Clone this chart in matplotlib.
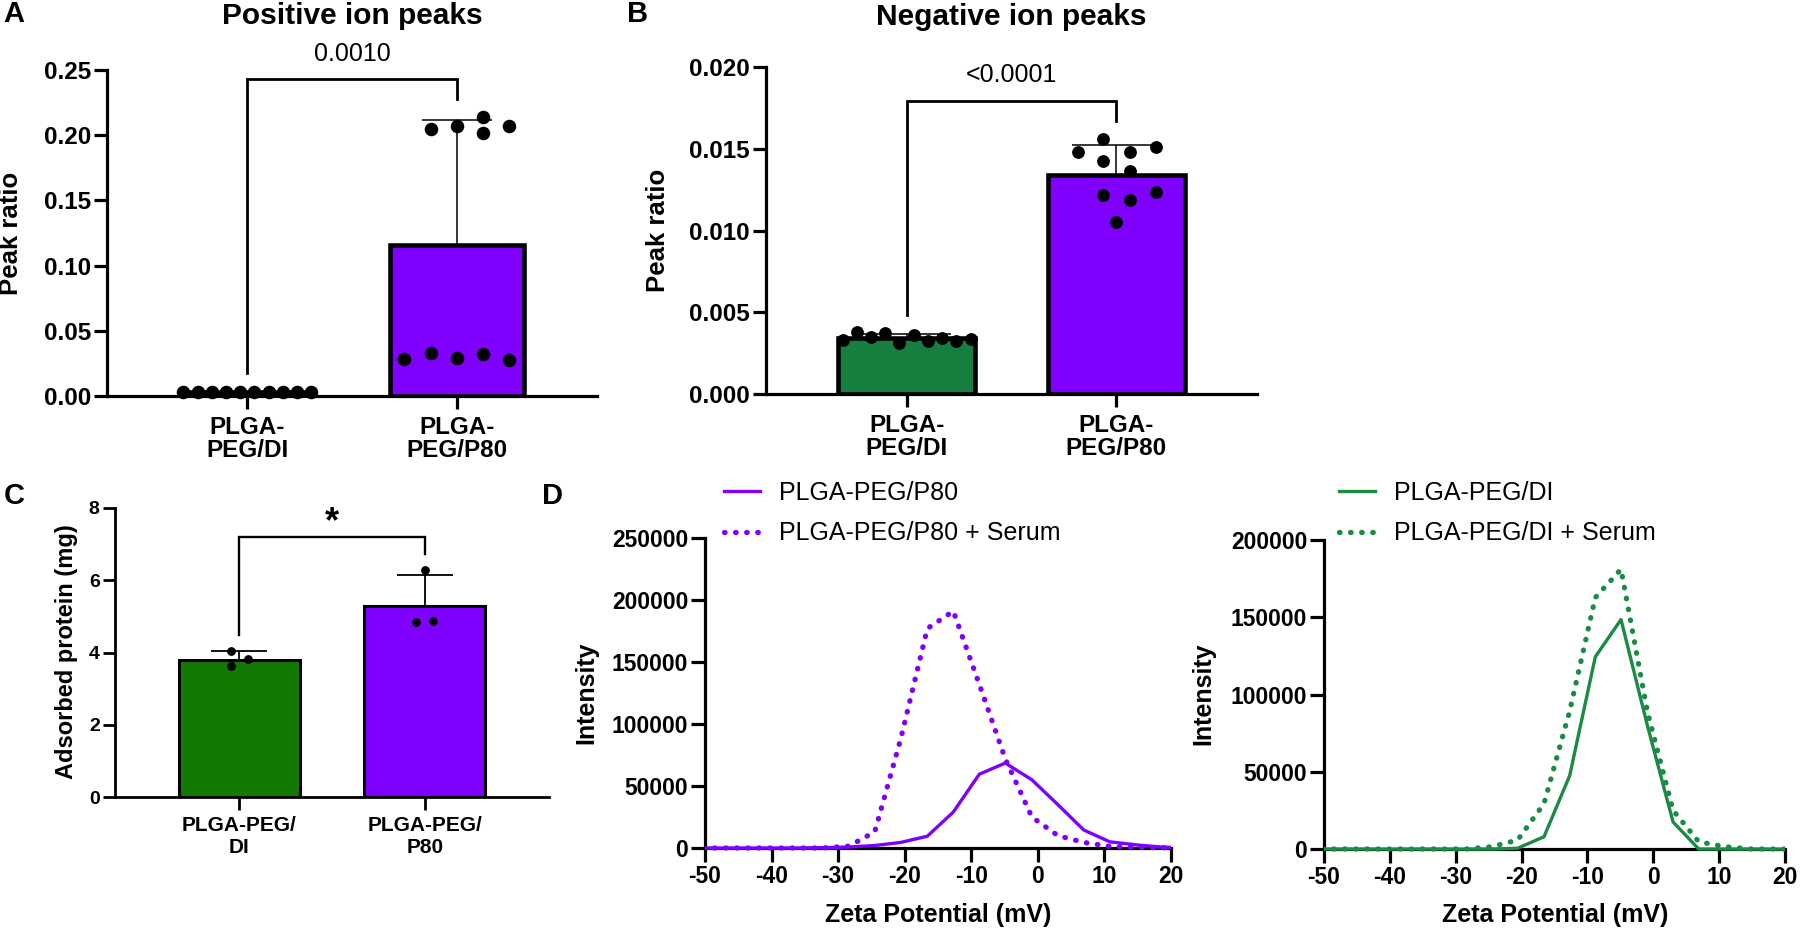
import numpy as np
import matplotlib.pyplot as plt
from matplotlib.ticker import FormatStrFormatter
from matplotlib.transforms import Bbox, TransformedBbox

plt.rcParams['font.family'] = ['Liberation Sans', 'DejaVu Sans']
plt.rcParams['font.weight'] = 'bold'
plt.rcParams['axes.unicode_minus'] = False

# ---------------- data ----------------
groups_ab = ['PLGA-\nPEG/DI', 'PLGA-\nPEG/P80']
groups_c = ['PLGA-PEG/\nDI', 'PLGA-PEG/\nP80']

# A: positive ion peak ratio
pos_mean = [0.003, 0.1158]
pos_sd = [0.0002, 0.0959]
pos_di = [0.0030, 0.0032, 0.0031, 0.0030, 0.0029, 0.0031, 0.0030, 0.0032, 0.0030, 0.0029]
pos_p80 = [0.2045, 0.2071, 0.2137, 0.2019, 0.2071, 0.0281, 0.0327, 0.0294, 0.0319, 0.0273]

# B: negative ion peak ratio
neg_mean = [0.0034, 0.0134]
neg_sd = [0.0003, 0.0018]
neg_di = [0.00330, 0.00381, 0.00351, 0.00371, 0.00310, 0.00361, 0.00326, 0.00340, 0.00324, 0.00334]
neg_p80 = [0.01478, 0.01558, 0.01427, 0.01478, 0.01366, 0.01513, 0.01217, 0.01187, 0.01238, 0.01054]

# C: adsorbed protein (mg)
prot_mean = [3.80, 5.30]
prot_sd = [0.25, 0.85]
prot_di = [4.03, 3.64, 3.82]
prot_p80 = [6.29, 4.84, 4.86]

# D: zeta potential distributions
zeta = [-51.9, -48.0, -44.1, -40.1, -36.2, -32.3, -28.4, -24.5, -20.6, -16.6,
        -12.7, -8.8, -4.9, -0.9, 3.0, 6.9, 10.8, 14.8, 18.7, 22.6]
p80 = [0, 0, 0, 0, 0, 300, 800, 2000, 4500, 9500,
       29000, 59500, 68500, 55000, 35000, 14500, 5000, 2500, 700, 200]
p80_serum = [0, 0, 0, 0, 0, 0, 1500, 13000, 88000, 177000,
             191000, 132000, 72000, 25000, 10000, 4500, 1300, 500, 200, 0]
di = [0, 0, 0, 0, 0, 0, 0, 0, 500, 7900,
      47400, 124400, 148500, 80000, 17500, 0, 0, 0, 0, 0]
di_serum = [0, 0, 0, 0, 0, 0, 0, 1500, 5800, 29300,
            89100, 162800, 181000, 89000, 25000, 4700, 1500, 0, 0, 0]

# horizontal spread of the scatter dots (fraction of category spacing)
spread10 = [-0.305, -0.237, -0.169, -0.102, -0.034, 0.034, 0.102, 0.169, 0.237, 0.305]
spread_pos_p80 = [-0.125, 0, 0.125, 0.125, 0.25, -0.25, -0.125, 0, 0.125, 0.25]
spread_neg_p80 = [-0.185, -0.064, -0.064, 0.066, 0.066, 0.189, -0.064, 0.066, 0.189, 0]
spread_c_di = [-0.045, -0.045, 0.048]
spread_c_p80 = [0, -0.048, 0.047]

purple = '#7F00FF'
green_b = '#167F40'
green_c = '#127A02'
green_d = '#1A8A44'

W, H = 1800, 932
fig = plt.figure(figsize=(18, 9.32), dpi=100)


def rect(x0, x1, y0, y1):
    return [x0 / W, 1 - y1 / H, (x1 - x0) / W, (y1 - y0) / H]


def fx(x):
    return x / W


def fy(y):
    return 1 - y / H


def bar_panel(ax, means, sds, dots, spreads, colors, width, bar_lw, axis_lw,
              dot_s, capsize, err_lw):
    x = np.arange(len(means))
    ax.bar(x, means, width=width, color=colors, edgecolor='black',
           linewidth=bar_lw, zorder=2)
    for i in x:
        ax.errorbar(i, means[i], yerr=[[0], [sds[i]]], fmt='none', ecolor='black',
                    elinewidth=err_lw, capsize=capsize, capthick=err_lw, zorder=3)
        ax.scatter(i + np.array(spreads[i]), dots[i], s=dot_s, color='black',
                   linewidths=0, zorder=4, clip_on=False)
    ax.set_xlim(-0.67, 1.67)
    for side in ['top', 'right']:
        ax.spines[side].set_visible(False)
    for side in ['left', 'bottom']:
        ax.spines[side].set_linewidth(axis_lw)


def bracket(ax, y_left, y_top, y_right, text, text_y, lw, size, weight):
    ax.plot([0, 0, 1, 1], [y_left, y_top, y_top, y_right], color='black', lw=lw,
            clip_on=False, solid_joinstyle='miter')
    ax.text(0.5, text_y, text, ha='center', va='center', fontsize=size,
            fontweight=weight)


# ---------------- A ----------------
axA = fig.add_axes(rect(107, 597, 70, 396))
bar_panel(axA, pos_mean, pos_sd, [pos_di, pos_p80], [spread10, spread_pos_p80],
          [green_b, purple], 0.64, 3.3, 2.3, 95, 25, 1.1)
axA.set_ylim(0, 0.25)
axA.set_yticks(np.arange(0, 0.26, 0.05))
axA.yaxis.set_major_formatter(FormatStrFormatter('%.2f'))
axA.set_xticks([0, 1], groups_ab, linespacing=1.0)
axA.tick_params(axis='both', width=2.3, length=9.5, labelsize=17.5)
axA.tick_params(axis='y', pad=2)
axA.tick_params(axis='x', pad=5)
bracket(axA, 0.0176, 0.2431, 0.2278, '0.0010', 0.2623, 2, 18, 'normal')
axA.text(0.5, 1.166, 'Positive ion peaks', transform=axA.transAxes, ha='center',
         va='center', fontsize=21.5, fontweight='bold')

# ---------------- B ----------------
axB = fig.add_axes(rect(766, 1257, 67, 394))
bar_panel(axB, neg_mean, neg_sd, [neg_di, neg_p80], [spread10, spread_neg_p80],
          [green_b, purple], 0.65, 3.3, 2.3, 85, 32, 1.1)
axB.set_ylim(0, 0.02)
axB.set_yticks(np.arange(0, 0.0201, 0.005))
axB.yaxis.set_major_formatter(FormatStrFormatter('%.3f'))
axB.set_xticks([0, 1], groups_ab, linespacing=1.0)
axB.tick_params(axis='both', width=2.3, length=9.5, labelsize=17.5)
axB.tick_params(axis='y', pad=2)
axB.tick_params(axis='x', pad=5)
bracket(axB, 0.00483, 0.01792, 0.0167, '<0.0001', 0.01951, 2, 18, 'normal')
axB.text(0.5, 1.153, 'Negative ion peaks', transform=axB.transAxes, ha='center',
         va='center', fontsize=21.5, fontweight='bold')

# ---------------- C ----------------
axC = fig.add_axes(rect(115, 549, 508, 797))
bar_panel(axC, prot_mean, prot_sd, [prot_di, prot_p80], [spread_c_di, spread_c_p80],
          [green_c, purple], 0.65, 2.2, 2.0, 40, 20, 1.3)
axC.set_ylim(0, 8)
axC.set_yticks([0, 2, 4, 6, 8])
axC.set_xticks([0, 1], groups_c)
axC.tick_params(axis='both', width=2.0, length=9, labelsize=14)
axC.tick_params(axis='x', labelsize=15, pad=5)
axC.tick_params(axis='y', pad=2)
bracket(axC, 4.49, 7.2, 6.73, '*', 7.6, 1.7, 26, 'bold')


# ---------------- D ----------------
def zeta_panel(ax, y_solid, y_dotted, color, labels, ymax, legend_x):
    l1, = ax.plot(zeta, y_solid, color=color, lw=2.4, label=labels[0], zorder=3)
    l2, = ax.plot(zeta, y_dotted, color=color, lw=3.8, linestyle=(0, (0.1, 2.0)),
                  dash_capstyle='round', label=labels[1], zorder=3)
    clip = TransformedBbox(Bbox([[-50, -0.1 * ymax], [20, 1.1 * ymax]]), ax.transData)
    for ln in (l1, l2):
        ln.set_clip_box(clip)
    ax.set_xlim(-50, 20)
    ax.set_ylim(0, ymax)
    ax.set_xticks(range(-50, 21, 10))
    ax.set_yticks(range(0, ymax + 1, 50000))
    for side in ['top', 'right']:
        ax.spines[side].set_visible(False)
    for side in ['left', 'bottom']:
        ax.spines[side].set_linewidth(2.3)
    ax.tick_params(axis='both', width=2.3, length=10, labelsize=16.5, pad=2)
    ax.legend(loc='upper left', bbox_to_anchor=(fx(legend_x), fy(481)),
              bbox_transform=fig.transFigure, frameon=False,
              prop={'weight': 'normal', 'size': 18}, handlelength=1.45,
              handletextpad=0.75, labelspacing=0.65, borderaxespad=0, borderpad=0)


axDL = fig.add_axes(rect(705, 1171, 538, 848))
zeta_panel(axDL, p80, p80_serum, purple, ['PLGA-PEG/P80', 'PLGA-PEG/P80 + Serum'],
           250000, 724)
axDR = fig.add_axes(rect(1324, 1785, 540, 849))
zeta_panel(axDR, di, di_serum, green_d, ['PLGA-PEG/DI', 'PLGA-PEG/DI + Serum'],
           200000, 1339)

# ---------------- shared labels ----------------
ylab = dict(rotation=90, ha='center', va='center', fontweight='bold')
fig.text(fx(11), fy(233), 'Peak ratio', fontsize=18.5, **ylab)
fig.text(fx(658), fy(230), 'Peak ratio', fontsize=18.5, **ylab)
fig.text(fx(67), fy(652), 'Adsorbed protein (mg)', fontsize=17, **ylab)
fig.text(fx(586), fy(693), 'Intensity', fontsize=18, **ylab)
fig.text(fx(1203), fy(694), 'Intensity', fontsize=18, **ylab)
fig.text(fx(938), fy(915), 'Zeta Potential (mV)', fontsize=18, ha='center',
         va='center', fontweight='bold')
fig.text(fx(1555), fy(915), 'Zeta Potential (mV)', fontsize=18, ha='center',
         va='center', fontweight='bold')

# panel letters
for letter, x, y in [('A', 3, 0), ('B', 627, 0), ('C', 4, 482), ('D', 542, 482)]:
    fig.text(fx(x), fy(y), letter, ha='left', va='top', fontsize=21, fontweight='bold')

fig.savefig('out.png', dpi=100)
